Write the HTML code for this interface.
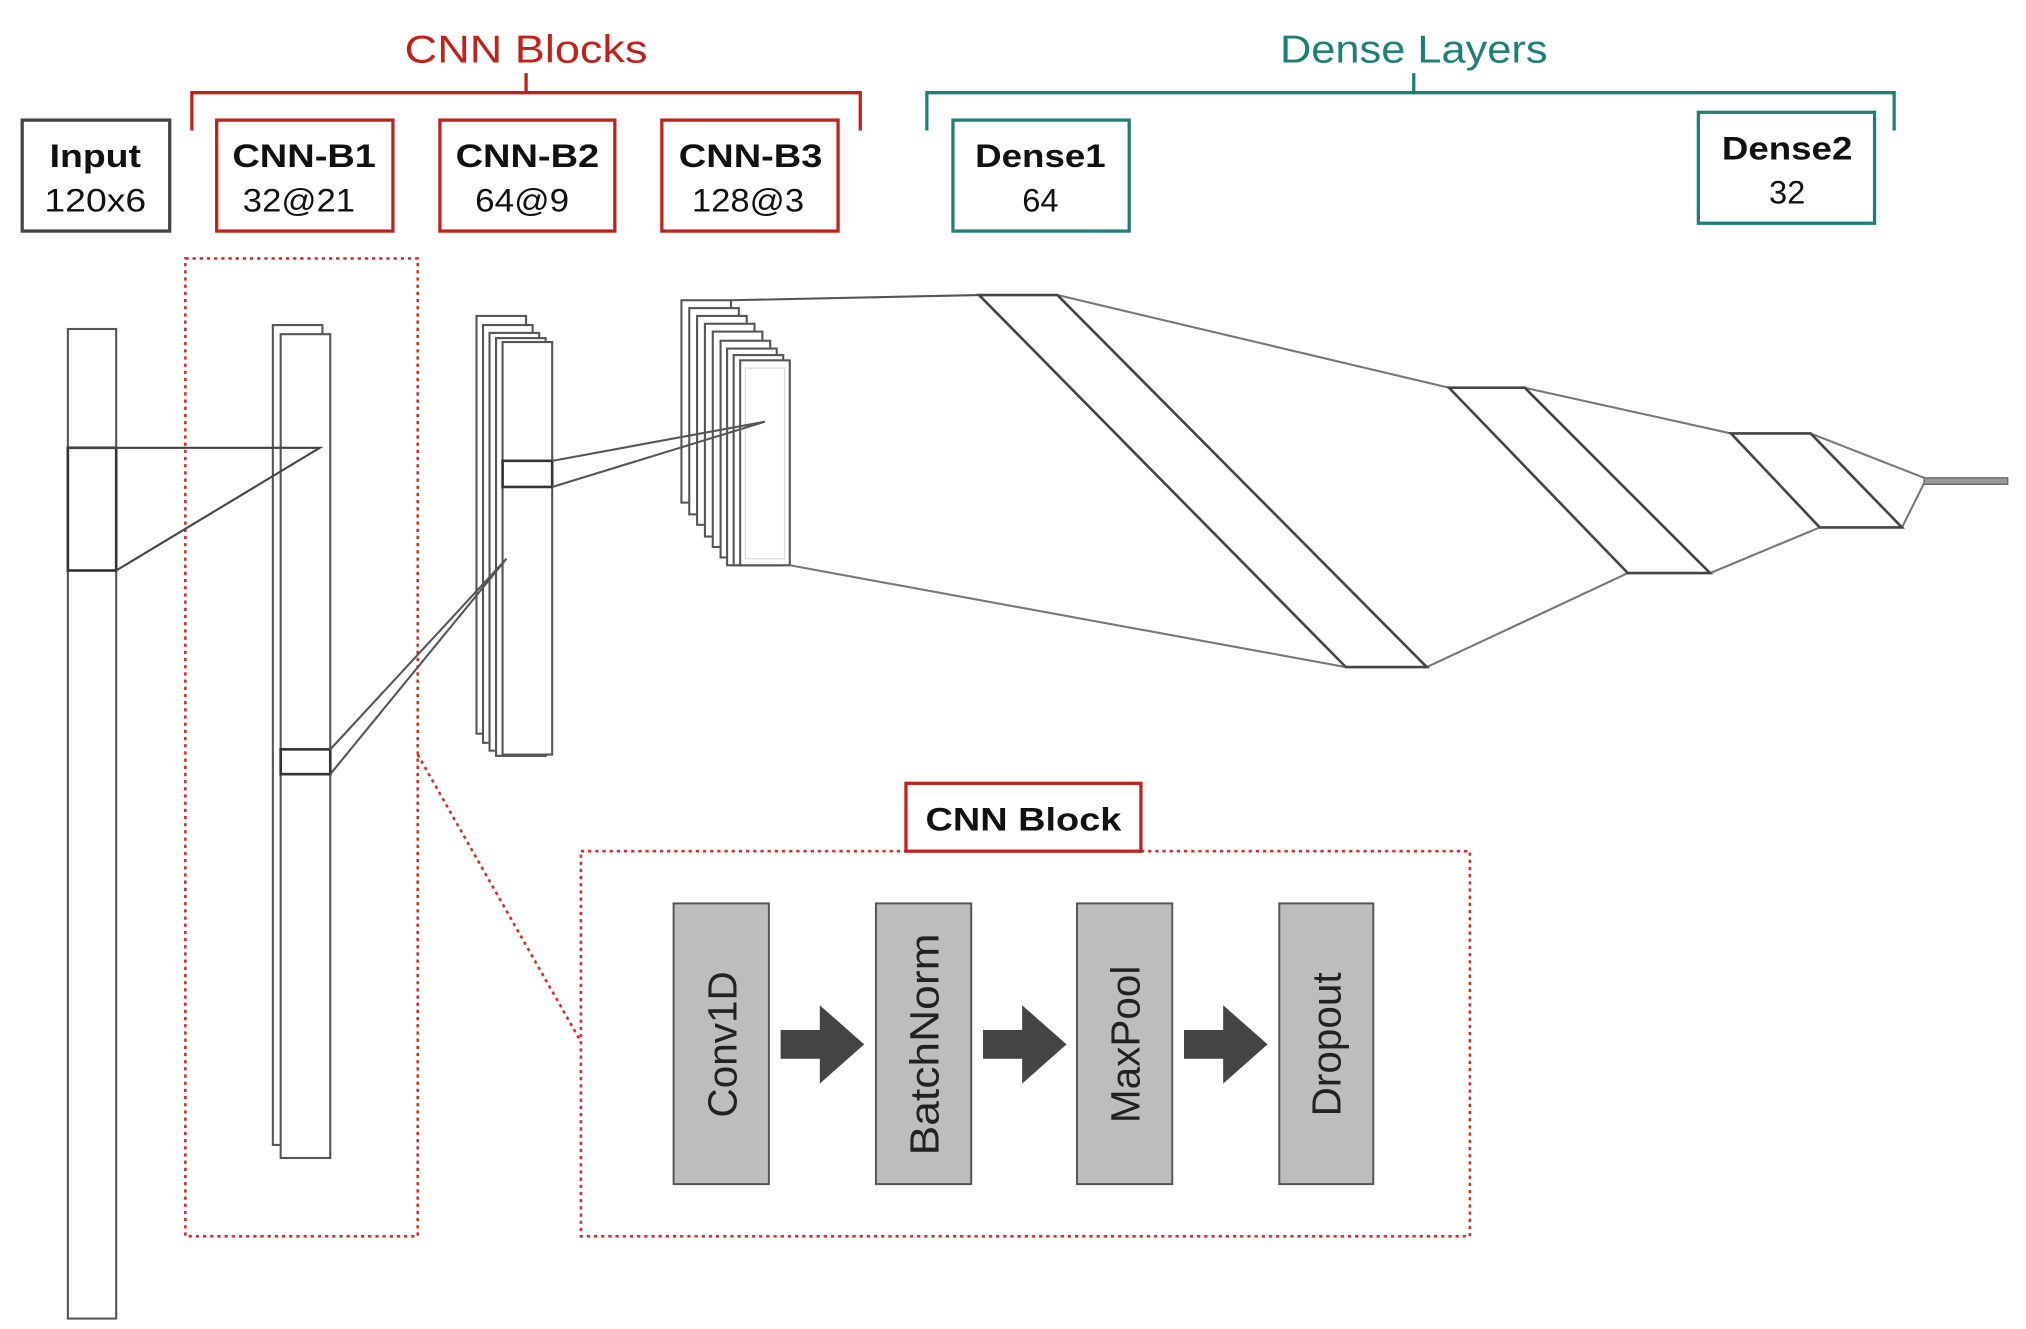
<!DOCTYPE html>
<html><head><meta charset="utf-8"><style>
html,body{margin:0;padding:0;background:#fff;}
svg{display:block;}
text{font-family:"Liberation Sans",Arial,sans-serif;}
</style></head><body>
<svg width="2026" height="1329" viewBox="0 0 1552 1018" preserveAspectRatio="none" xmlns="http://www.w3.org/2000/svg">
<rect width="1552" height="1018" fill="#fff"/>
<text x="403" y="48" font-size="30" fill="#c0211a" text-anchor="middle" textLength="186" lengthAdjust="spacingAndGlyphs">CNN Blocks</text>
<path d="M147 100 V71 H659 V100 M403 71 V56" fill="none" stroke="#c0211a" stroke-width="2.5"/>
<text x="1083" y="48" font-size="30" fill="#1f7f78" text-anchor="middle" textLength="205" lengthAdjust="spacingAndGlyphs">Dense Layers</text>
<path d="M710 100 V71 H1451 V100 M1083 71 V56" fill="none" stroke="#1f7f78" stroke-width="2.5"/>
<g stroke-width="2.5" fill="#fff">
<rect x="17" y="92" width="113" height="85" stroke="#444"/>
<rect x="166" y="92" width="135" height="85" stroke="#c0211a"/>
<rect x="337" y="92" width="134" height="85" stroke="#c0211a"/>
<rect x="507" y="92" width="135" height="85" stroke="#c0211a"/>
<rect x="730" y="92" width="135" height="85" stroke="#1f7f78"/>
<rect x="1301" y="86" width="135" height="85" stroke="#1f7f78"/>
</g>
<g font-size="25" fill="#111" text-anchor="middle">
<text x="73" y="128" font-weight="bold" textLength="70" lengthAdjust="spacingAndGlyphs">Input</text>
<text x="73" y="162" textLength="78" lengthAdjust="spacingAndGlyphs">120x6</text>
<text x="233" y="128" font-weight="bold" textLength="110" lengthAdjust="spacingAndGlyphs">CNN-B1</text>
<text x="229" y="162" textLength="86" lengthAdjust="spacingAndGlyphs">32@21</text>
<text x="404" y="128" font-weight="bold" textLength="110" lengthAdjust="spacingAndGlyphs">CNN-B2</text>
<text x="400" y="162" textLength="72" lengthAdjust="spacingAndGlyphs">64@9</text>
<text x="575" y="128" font-weight="bold" textLength="110" lengthAdjust="spacingAndGlyphs">CNN-B3</text>
<text x="573" y="162" textLength="86" lengthAdjust="spacingAndGlyphs">128@3</text>
<text x="797" y="128" font-weight="bold" textLength="100" lengthAdjust="spacingAndGlyphs">Dense1</text>
<text x="797" y="162">64</text>
<text x="1369" y="122" font-weight="bold" textLength="100" lengthAdjust="spacingAndGlyphs">Dense2</text>
<text x="1369" y="156">32</text>
</g>
<g fill="none" stroke="#d0302a" stroke-width="2" stroke-dasharray="2.5 3">
<rect x="142" y="198" width="178" height="749"/>
<rect x="445" y="652" width="681" height="295"/>
<path d="M320 578 L445 798"/>
</g>
<g fill="none" stroke="#555" stroke-width="1.6">
<rect x="52" y="252" width="37" height="758"/>
<rect x="209" y="249" width="38" height="628" fill="#fff"/>
<rect x="215" y="256" width="38" height="631" fill="#fff"/>
<rect x="365" y="242" width="38" height="320" fill="#fff"/>
<rect x="370" y="249" width="38" height="320" fill="#fff"/>
<rect x="375" y="255" width="38" height="320" fill="#fff"/>
<rect x="380" y="259" width="38" height="320" fill="#fff"/>
<rect x="385" y="262" width="38" height="316" fill="#fff"/>
<rect x="522" y="230" width="38" height="155" fill="#fff"/>
<rect x="528" y="236" width="38" height="158" fill="#fff"/>
<rect x="534" y="242" width="38" height="160" fill="#fff"/>
<rect x="540" y="248" width="38" height="163" fill="#fff"/>
<rect x="546" y="254" width="38" height="165" fill="#fff"/>
<rect x="552" y="261" width="38" height="166" fill="#fff"/>
<rect x="557" y="267" width="38" height="166" fill="#fff"/>
<rect x="562" y="272" width="38" height="161" fill="#fff"/>
<rect x="567" y="276" width="38" height="157" fill="#fff"/>
<rect x="571" y="282" width="30" height="146" stroke="#ddd" stroke-width="1"/>
<rect x="52" y="343" width="37" height="94" stroke="#333" stroke-width="2"/>
<path d="M52 343 H245 L89 437" stroke="#444"/>
<rect x="215" y="574" width="38" height="19" stroke="#333" stroke-width="2"/>
<path d="M253 574 L388 428 M253 593 L388 428"/>
<rect x="385" y="353" width="38" height="20" stroke="#333" stroke-width="2"/>
<path d="M423 353 L586 323 M423 373 L586 323"/>
<path d="M560 230 L750 226"/>
<path d="M605 433 L1031 511 M810 226 L1110 297 M1093 511 L1247 439 M1168 297 L1326 332 M1310 439 L1394 404 M1387 332 L1474 366 M1457 404 L1474 370" stroke="#777"/>
<path d="M750 226 H810 L1093 511 H1031 Z" stroke="#444" stroke-width="2"/>
<path d="M1110 297 H1168 L1310 439 H1247 Z" stroke="#444" stroke-width="2"/>
<path d="M1326 332 H1387 L1457 404 H1394 Z" stroke="#444" stroke-width="2"/>
<rect x="1474" y="366" width="64" height="5" fill="#999" stroke="#666" stroke-width="1"/>
</g>
<rect x="694" y="600" width="180" height="52" fill="#fff" stroke="#c0211a" stroke-width="2.5"/>
<text x="784" y="636" font-size="25" font-weight="bold" text-anchor="middle" fill="#111" textLength="150" lengthAdjust="spacingAndGlyphs">CNN Block</text>
<g fill="#bdbdbd" stroke="#555" stroke-width="1.5">
<rect x="516" y="692" width="73" height="215"/>
<rect x="671" y="692" width="73" height="215"/>
<rect x="825" y="692" width="73" height="215"/>
<rect x="980" y="692" width="72" height="215"/>
</g>
<g font-size="31" fill="#222" text-anchor="middle">
<text transform="translate(564,800) rotate(-90)">Conv1D</text>
<text transform="translate(719,800) rotate(-90)" textLength="170" lengthAdjust="spacingAndGlyphs">BatchNorm</text>
<text transform="translate(873,800) rotate(-90)">MaxPool</text>
<text transform="translate(1027,800) rotate(-90)">Dropout</text>
</g>
<g fill="#444">
<path d="M598 789 H628 V770 L662 800 L628 830 V811 H598 Z"/>
<path d="M753 789 H783 V770 L817 800 L783 830 V811 H753 Z"/>
<path d="M907 789 H937 V770 L971 800 L937 830 V811 H907 Z"/>
</g>
</svg>
</body></html>
